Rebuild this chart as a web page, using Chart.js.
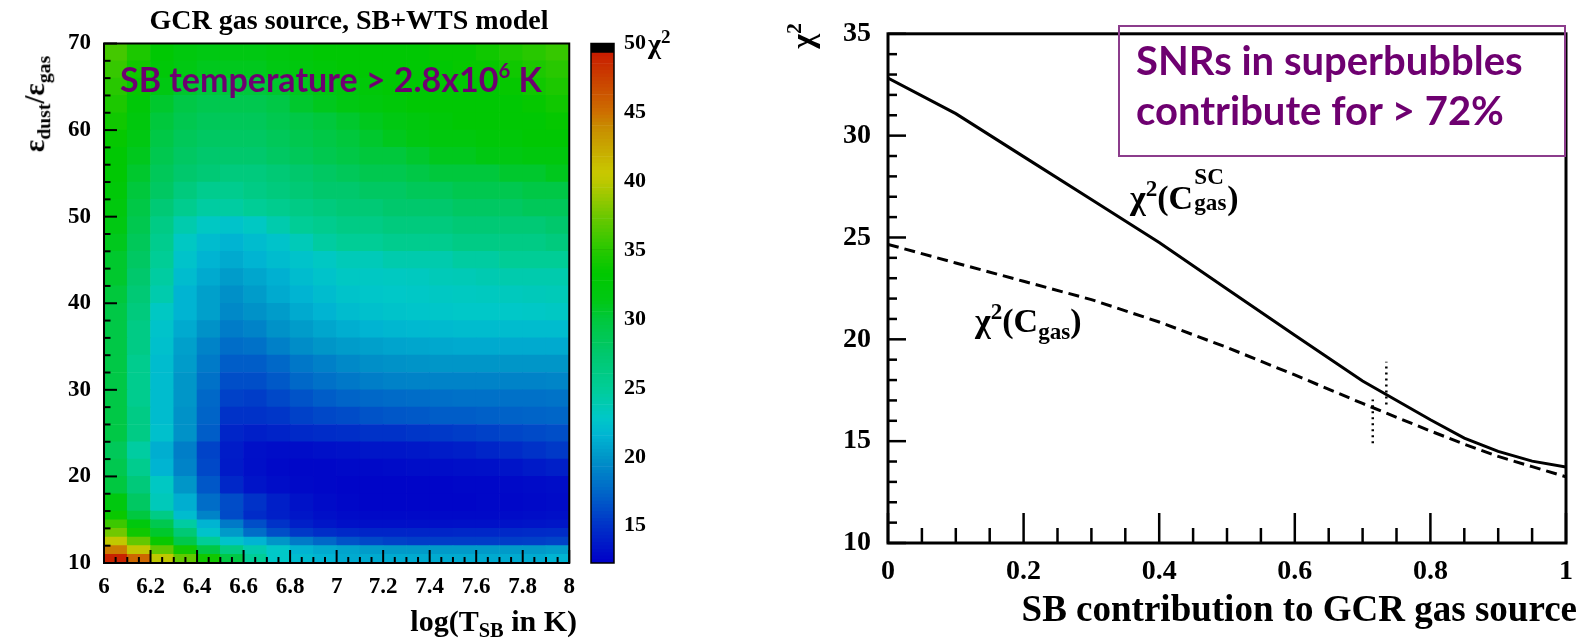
<!DOCTYPE html>
<html>
<head>
<meta charset="utf-8">
<script src="https://cdn.jsdelivr.net/npm/chart.js@4.4.1/dist/chart.umd.min.js"></script>
<style>
  body { margin: 0; width: 1585px; height: 643px; background: #fff; position: relative; overflow: hidden; }
  canvas { position: absolute; top: 0; }
  .lbl { position: absolute; font-family: "Liberation Serif", serif; font-weight: bold; color: #000; white-space: nowrap; line-height: 1; }
  .lbl sub { font-size: 68%; vertical-align: -0.3em; }
  .lbl sup { font-size: 68%; vertical-align: 0.55em; }
  .ss { display: inline-block; position: relative; width: 1em; height: 1em; vertical-align: baseline; }
  .ss span { position: absolute; left: 0.05em; font-size: 68%; line-height: 1; }
  .ss .hi { top: -0.45em; }
  .ss .lo { top: 0.7em; }
  .note { position: absolute; font-family: Lato, sans-serif; font-weight: bold; color: #6e0070; white-space: nowrap; line-height: 1; }
  .note sup { font-size: 60%; vertical-align: 0.7em; }
  #box { position: absolute; left: 1118px; top: 25px; width: 444px; height: 128px; border: 2px solid #8c3c8c; }
</style>
</head>
<body>
<canvas id="heat" width="585" height="643" style="left:0"></canvas>
<canvas id="cbar" width="115" height="643" style="left:585px"></canvas>
<canvas id="lines" width="785" height="643" style="left:800px"></canvas>

<div class="lbl" style="left:349px;top:6px;font-size:28px;transform:translateX(-50%)">GCR gas source, SB+WTS model</div>
<div class="lbl" style="left:37px;top:104px;font-size:29px;transform:translate(-50%,-50%) rotate(-90deg)">&epsilon;<sub>dust</sub>/&epsilon;<sub>gas</sub></div>
<div class="lbl" style="right:1008px;top:606px;font-size:30px">log(T<sub>SB</sub> in K)</div>
<div class="lbl" style="left:648px;top:27px;font-size:28px">&chi;<sup>2</sup></div>
<div class="note" style="left:120px;top:60px;font-size:34px">SB temperature &gt; 2.8x10<sup>6</sup> K</div>

<div class="lbl" style="left:801px;top:36px;font-size:32px;transform:translate(-50%,-50%) rotate(-90deg)">&chi;<sup>2</sup></div>
<div class="lbl" style="right:8px;top:590px;font-size:37px">SB contribution to GCR gas source</div>
<div class="lbl" style="left:1130px;top:175px;font-size:34px">&chi;<sup>2</sup>(C<span class="ss"><span class="hi">SC</span><span class="lo">gas</span></span>)</div>
<div class="lbl" style="left:975px;top:300px;font-size:34px">&chi;<sup>2</sup>(C<sub>gas</sub>)</div>
<div id="box"></div>
<div class="note" style="left:1136px;top:40px;font-size:40px">SNRs in superbubbles</div>
<div class="note" style="left:1136px;top:90px;font-size:40px">contribute for &gt; 72%</div>

<script>
// ---- left panel: chi2 map over log(T_SB) and eps_dust/eps_gas ----
const tempBins = [6.0, 6.1, 6.2, 6.3, 6.4, 6.5, 6.6, 6.7, 6.8, 6.9, 7.0, 7.1, 7.2, 7.3, 7.4, 7.5, 7.6, 7.7, 7.8, 7.9, 8.0];
const ratioBins = [10, 11, 12, 13, 14, 15, 16, 18, 20, 22, 24, 26, 28, 30, 32, 34, 36, 38, 40, 42, 44, 46, 48, 50, 52, 54, 56, 58, 60, 62, 64, 66, 68, 70];

// one row per ratio bin, bottom to top, one value per temperature bin
const chi2Grid = [
  [49, 45.3, 40, 37, 34, 29.5, 25, 22.8, 22, 21.5, 21, 21, 21, 21, 21, 21, 21, 21, 21, 21.5],
  [44.5, 40.2, 37, 34, 29.6, 26.2, 24, 22.8, 21.5, 21, 20.7, 20.3, 20.2, 20.2, 20.2, 20.2, 20.2, 20.2, 20.2, 20.4],
  [40.2, 37.1, 33.7, 29.2, 25, 22.5, 21.5, 20, 18.5, 17.5, 16.5, 16, 15.7, 15.5, 15.5, 15.5, 15.5, 15.5, 15.6, 15.8],
  [37.6, 34, 30.5, 27, 22.5, 20.2, 17.8, 16.3, 15.3, 14.8, 14.5, 14.3, 14.3, 14.3, 14.3, 14.4, 14.4, 14.5, 14.6, 14.7],
  [35.7, 32, 29, 24.5, 21.5, 18.5, 16.3, 15, 14, 13.5, 13.2, 13.1, 13.1, 13.1, 13.1, 13.2, 13.2, 13.3, 13.4, 13.5],
  [33.7, 29.8, 26, 22, 19, 16.1, 14.6, 14, 13.5, 13.1, 12.9, 12.8, 12.8, 12.8, 12.8, 12.8, 12.8, 12.9, 13, 13.1],
  [31.8, 28, 23.4, 21.2, 17.8, 16.2, 15, 14, 13.3, 12.9, 12.7, 12.6, 12.6, 12.6, 12.6, 12.6, 12.7, 12.7, 12.8, 12.9],
  [29.8, 26.7, 23, 20, 16.7, 14.4, 13.4, 13, 12.8, 12.7, 12.6, 12.6, 12.6, 12.6, 12.6, 12.7, 12.7, 12.8, 12.9, 13],
  [29, 25.5, 21.5, 19, 16, 13.7, 13.1, 12.8, 12.7, 12.7, 12.8, 12.8, 12.9, 13, 13, 13.1, 13.2, 13.4, 13.7, 14],
  [28.5, 24.5, 21.2, 18.7, 15.8, 13.8, 13.2, 13, 13, 13.2, 13.3, 13.5, 13.5, 13.6, 13.8, 14, 14.3, 14.6, 15, 15.3],
  [29.5, 26, 22.3, 19.8, 17, 14.3, 14, 14.2, 14.5, 14.7, 14.8, 15, 15, 15.2, 15.3, 15.5, 15.7, 15.9, 16.1, 16.3],
  [29.5, 26, 22, 19.8, 17.3, 15, 15, 15.2, 15.7, 16, 16.2, 16.5, 16.7, 16.8, 17, 17, 17.1, 17.2, 17.3, 17.4],
  [29.5, 25.5, 22, 20, 17.5, 15.7, 15.5, 16, 16.5, 17, 17.3, 17.5, 17.7, 17.8, 17.9, 18, 18, 18, 18, 18.1],
  [29.5, 25.5, 22, 20, 18, 16.3, 16.3, 16.8, 17.5, 18, 18.4, 18.7, 18.9, 19, 19, 19, 19, 19, 19, 19.1],
  [29.5, 25.5, 22, 20.3, 18.5, 17, 17, 17.5, 18.3, 18.8, 19.3, 19.6, 19.8, 19.9, 20, 20, 20, 20, 20, 20],
  [29.5, 26, 22.3, 20.5, 19, 17.8, 18, 18.8, 19.5, 20, 20.3, 20.5, 20.7, 20.8, 20.9, 21, 21, 21, 21, 21],
  [29.5, 26, 22.5, 21, 19.8, 18.6, 19, 19.8, 20.3, 20.8, 21.2, 21.5, 21.7, 21.8, 21.9, 22, 22, 22, 22, 22],
  [29.5, 26.5, 23, 21.5, 20.5, 19.3, 19.8, 20.3, 21, 21.5, 22, 22.3, 22.5, 22.6, 22.7, 22.8, 22.8, 22.8, 22.9, 23],
  [30, 27, 24, 21.5, 20.5, 19.7, 20.3, 21, 21.5, 22, 22.5, 22.7, 22.8, 22.9, 23, 23.1, 23.2, 23.3, 23.4, 23.5],
  [30.5, 27.5, 24.5, 22, 21, 20.3, 20.8, 21.3, 22, 22.5, 23, 23, 23.1, 23.2, 23.5, 23.6, 23.8, 24, 24, 24],
  [30.5, 28, 25, 22.5, 21.5, 21, 21.5, 22, 22.5, 23, 23.5, 23.5, 24, 24, 24, 24.5, 24.5, 25, 25, 25],
  [31, 28.5, 25.5, 23, 22, 21.5, 22, 22.5, 23.5, 24.5, 25, 25, 25.5, 25.5, 25.5, 26, 26, 26, 26, 26.5],
  [31.5, 29, 26, 24, 23, 22.5, 23, 24, 25, 25.5, 26, 26, 26.5, 26.5, 26.5, 27, 27, 27, 27, 27.5],
  [32, 29.5, 27, 25.5, 24.5, 24.5, 25, 25.5, 26, 26.5, 27, 27, 27.5, 27.5, 27.5, 28, 28, 28, 28.5, 28.5],
  [32.5, 30, 28, 26.5, 25.5, 25.5, 26, 26.5, 27, 27.5, 27.5, 28, 28, 28.5, 28.5, 29, 29, 29, 29.5, 29.5],
  [33, 30.5, 28.5, 27.5, 27, 26.5, 26.5, 27, 27.5, 28, 28.5, 29, 29, 29.5, 30, 30, 30, 30.5, 30.5, 31],
  [33, 31, 29, 28, 27.5, 27.5, 27.5, 28, 28.5, 29, 29.5, 30, 30, 30.5, 31, 31, 31.5, 31.5, 32, 32],
  [33.5, 31.5, 29.5, 28.5, 28, 28, 28, 28.5, 29, 29.5, 30, 30.5, 31, 31.5, 32, 32, 32.5, 32.5, 33, 33],
  [34, 32, 30, 29, 28.5, 28.5, 28.5, 29, 29.5, 30, 30.5, 31, 31.5, 32, 32.5, 33, 33, 33, 33, 33.5],
  [34.5, 32.5, 30.5, 29.5, 29, 29, 29, 29.5, 30.5, 31, 31.5, 32, 32.5, 33, 33, 33, 33, 33, 33.5, 34],
  [35, 33.5, 31.5, 30.5, 30, 30, 30, 30.5, 31, 31.5, 32, 32.5, 33, 33, 33, 33, 33, 33.5, 34, 34.5],
  [35.5, 34, 32.5, 31.5, 31, 31, 31, 31.5, 32, 32.5, 33, 33, 33, 33, 33, 33.5, 33.5, 34, 34.5, 35],
  [36, 34.5, 33, 32, 31.5, 31.5, 31.5, 32, 32.5, 33, 33, 33, 33, 33, 33.5, 33.5, 34, 34.5, 35, 35.5]
];

// colour scale of the z axis
const paletteLevels = [12.3, 13.5, 15, 17.3, 20, 21.5, 22.8, 25, 27.4, 30, 31.3, 33.3, 35, 37.5, 40, 40.6, 43.9, 45, 49.2];
const paletteRGB = [[0,0,200],[0,22,200],[0,50,200],[0,100,200],[0,150,200],[0,180,210],[0,200,200],[0,205,150],[0,200,110],[0,200,60],[0,200,20],[0,200,0],[40,200,0],[110,200,0],[190,200,0],[200,200,0],[200,140,0],[205,110,0],[200,30,0]];
const zMin = 12.3, zMax = 50, zTicks = [15, 20, 25, 30, 35, 40, 45, 50];

// ---- right panel ----
const contribution = [0, 0.1, 0.2, 0.3, 0.4, 0.5, 0.6, 0.7, 0.8, 0.85, 0.9, 0.95, 1.0];
const chi2SC = [32.83, 31.08, 28.97, 26.86, 24.75, 22.47, 20.2, 17.95, 16.05, 15.15, 14.5, 14.02, 13.73];
const chi2Gas = [24.66, 23.75, 22.85, 21.95, 20.85, 19.6, 18.25, 16.85, 15.5, 14.85, 14.25, 13.75, 13.25];
const markerX = [0.735, 0.715];
const markerLow = [16.8, 14.9];
const markerHigh = [18.9, 17.05];

function chi2Color(v) {
  if (v >= 49.3) return 'rgb(0,0,0)';
  if (v <= paletteLevels[0]) return 'rgb(' + paletteRGB[0].join(',') + ')';
  for (let i = 1; i < paletteLevels.length; i++) {
    if (v <= paletteLevels[i]) {
      const t = (v - paletteLevels[i - 1]) / (paletteLevels[i] - paletteLevels[i - 1]);
      const a = paletteRGB[i - 1], b = paletteRGB[i];
      return 'rgb(' + a.map((c, k) => Math.round(c + (b[k] - c) * t)).join(',') + ')';
    }
  }
  return 'rgb(' + paletteRGB[paletteRGB.length - 1].join(',') + ')';
}

// ROOT prints 6, 6.2 ... 8 (no trailing zeros)
const plainTick = v => String(Math.round(v * 1000) / 1000);

Chart.defaults.font.family = '"Liberation Serif", serif';
Chart.defaults.font.weight = 'bold';
Chart.defaults.color = '#000';

// ROOT-like frame with ticks pointing into the plot
const frameTicks = {
  id: 'frameTicks',
  afterDraw(chart, args, o) {
    const { ctx, chartArea: a } = chart;
    ctx.save();
    ctx.strokeStyle = '#000';
    (o.marks || []).forEach(m => {
      const s = chart.scales[m.axis];
      ctx.lineWidth = m.width;
      for (let v = Math.ceil(s.min / m.minor - 1e-6) * m.minor; v <= s.max + 1e-6; v += m.minor) {
        const major = Math.abs(v / m.major - Math.round(v / m.major)) < 1e-4;
        const len = major ? m.majorLen : m.minorLen;
        const p = s.getPixelForValue(v);
        ctx.beginPath();
        if (s.isHorizontal()) { ctx.moveTo(p, a.bottom); ctx.lineTo(p, a.bottom - len); }
        else { ctx.moveTo(a.left, p); ctx.lineTo(a.left + len, p); }
        ctx.stroke();
      }
    });
    ctx.lineWidth = o.frame;
    ctx.strokeRect(a.left, a.top, a.right - a.left, a.bottom - a.top);
    ctx.restore();
  }
};

const heatSets = chi2Grid.map((row, r) => ({
  data: row.map((v, c) => ({ x: (tempBins[c] + tempBins[c + 1]) / 2, y: [ratioBins[r], ratioBins[r + 1]] })),
  backgroundColor: row.map(chi2Color),
  borderWidth: 0,
  barPercentage: 1,
  categoryPercentage: 1,
  grouped: false
}));

new Chart(document.getElementById('heat'), {
  type: 'bar',
  data: { datasets: heatSets },
  plugins: [frameTicks],
  options: {
    responsive: false,
    animation: false,
    events: [],
    layout: { padding: { left: 0, right: 8, top: 43.5, bottom: 0 } },
    plugins: {
      legend: { display: false },
      tooltip: { enabled: false },
      frameTicks: {
        frame: 2,
        marks: [
          { axis: 'x', major: 0.2, minor: 0.05, majorLen: 13, minorLen: 6, width: 2 },
          { axis: 'y', major: 10, minor: 2, majorLen: 13, minorLen: 6.5, width: 2 }
        ]
      }
    },
    scales: {
      x: {
        type: 'linear', min: 6, max: 8, offset: false,
        grid: { display: false, drawTicks: false, offset: false },
        border: { display: false },
        ticks: { stepSize: 0.2, autoSkip: false, maxRotation: 0, padding: 10, font: { size: 23 }, callback: plainTick },
        afterFit: s => { s.height = 80; }
      },
      y: {
        type: 'linear', min: 10, max: 70,
        grid: { display: false, drawTicks: false },
        border: { display: false },
        ticks: { stepSize: 10, padding: 13, font: { size: 23 }, callback: plainTick },
        afterFit: s => { s.width = 104; }
      }
    }
  }
});

// colour bar: thin floating bars stepping through the z range
const cbarSets = [];
for (let z = zMin; z < zMax - 1e-9; z += 0.25) {
  const hi = Math.min(z + 0.25, zMax);
  cbarSets.push({ data: [[z, hi]], backgroundColor: chi2Color((z + hi) / 2), borderWidth: 0, barPercentage: 1, categoryPercentage: 1, grouped: false });
}

new Chart(document.getElementById('cbar'), {
  type: 'bar',
  data: { labels: [''], datasets: cbarSets },
  plugins: [frameTicks],
  options: {
    responsive: false,
    animation: false,
    events: [],
    layout: { padding: { left: 6, right: 0, top: 43.5, bottom: 80 } },
    plugins: { legend: { display: false }, tooltip: { enabled: false }, frameTicks: { frame: 1.5, marks: [] } },
    scales: {
      x: { display: false },
      y: {
        position: 'right', min: zMin, max: zMax, z: 1,
        grid: { color: '#000', lineWidth: 1.5, drawTicks: false },
        border: { display: false },
        ticks: {
          stepSize: 5, padding: 10, font: { size: 22 },
          callback: v => zTicks.includes(Math.round(v * 100) / 100) ? plainTick(v) : null
        },
        afterFit: s => { s.width = 86; }
      }
    }
  }
});

new Chart(document.getElementById('lines'), {
  type: 'line',
  data: {
    datasets: [
      { data: contribution.map((x, i) => ({ x, y: chi2SC[i] })), borderColor: '#000', borderWidth: 3, pointRadius: 0, tension: 0 },
      { data: contribution.map((x, i) => ({ x, y: chi2Gas[i] })), borderColor: '#000', borderWidth: 3, borderDash: [11, 6], pointRadius: 0, tension: 0 },
      ...markerX.map((x, i) => ({
        data: [{ x, y: markerLow[i] }, { x, y: markerHigh[i] }],
        borderColor: '#000', borderWidth: 2.5, borderDash: [2, 4], pointRadius: 0
      }))
    ]
  },
  plugins: [frameTicks],
  options: {
    responsive: false,
    animation: false,
    events: [],
    layout: { padding: { left: 0, right: 8, top: 19.6, bottom: 0 } },
    plugins: {
      legend: { display: false },
      tooltip: { enabled: false },
      frameTicks: {
        frame: 3,
        marks: [
          { axis: 'x', major: 0.2, minor: 0.05, majorLen: 30, minorLen: 15, width: 2.5 },
          { axis: 'y', major: 5, minor: 1, majorLen: 18, minorLen: 9, width: 2.5 }
        ]
      }
    },
    scales: {
      x: {
        type: 'linear', min: 0, max: 1,
        grid: { display: false, drawTicks: false },
        border: { display: false },
        ticks: { stepSize: 0.2, autoSkip: false, maxRotation: 0, padding: 12, font: { size: 28 }, callback: plainTick },
        afterFit: s => { s.height = 100; }
      },
      y: {
        type: 'linear', min: 10, max: 35,
        grid: { display: false, drawTicks: false },
        border: { display: false },
        ticks: { stepSize: 5, padding: 17, font: { size: 28 }, callback: plainTick },
        afterFit: s => { s.width = 88; }
      }
    }
  }
});
</script>
</body>
</html>
